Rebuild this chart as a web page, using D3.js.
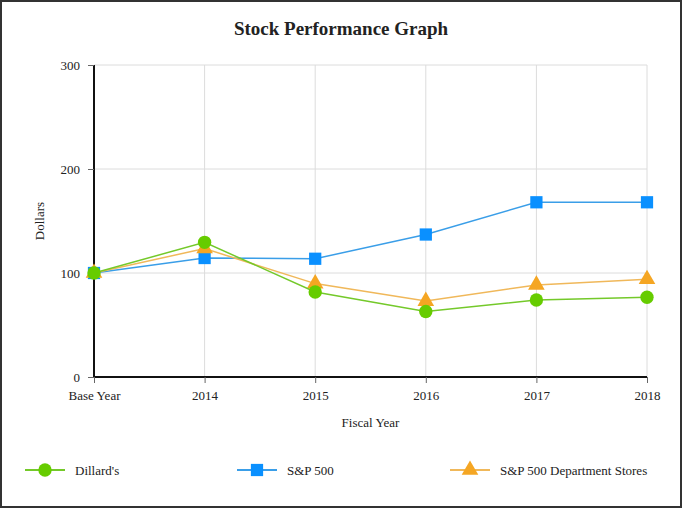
<!DOCTYPE html>
<html>
<head>
<meta charset="utf-8">
<script src="https://cdn.jsdelivr.net/npm/d3@7"></script>
<style>
body { margin: 0; background: #fff; }
text { font-family: "Liberation Serif", "Times New Roman", serif; fill: #222; }
</style>
</head>
<body>
<script>
// data
var years = ["Base Year", "2014", "2015", "2016", "2017", "2018"];
var dillards = [100, 129.5, 81.7, 63, 74, 76.7];
var sp500 = [100, 114.4, 113.7, 137, 168, 168];
var deptStores = [100, 123.5, 89.8, 73, 88.5, 94];
var yTicks = [0, 100, 200, 300];
var seriesNames = ["Dillard's", "S&P 500", "S&P 500 Department Stores"];

var W = 682, H = 508;
var margin = {top: 65, right: 35, bottom: 131, left: 94};
var width = W - margin.left - margin.right,
    height = H - margin.top - margin.bottom;

var svg = d3.select("body").append("svg")
  .attr("width", W).attr("height", H);

// outer frame
svg.append("rect")
  .attr("x", 1).attr("y", 1).attr("width", W - 2).attr("height", H - 2)
  .attr("fill", "#fff").attr("stroke", "#333").attr("stroke-width", 2);

svg.append("text")
  .attr("x", W / 2).attr("y", 35)
  .attr("text-anchor", "middle")
  .style("font-size", "19px").style("font-weight", "bold")
  .text("Stock Performance Graph");

var g = svg.append("g").attr("transform", "translate(" + margin.left + "," + margin.top + ")");

var x = d3.scalePoint().domain(years).range([0, width]);
var y = d3.scaleLinear().domain([0, 300]).range([height, 0]);

// gridlines
g.selectAll(".vgrid").data(years.slice(1)).enter().append("line")
  .attr("x1", d => x(d)).attr("x2", d => x(d))
  .attr("y1", 0).attr("y2", height)
  .attr("stroke", "#dcdcdc");
g.selectAll(".hgrid").data(yTicks.slice(1)).enter().append("line")
  .attr("x1", 0).attr("x2", width)
  .attr("y1", d => y(d)).attr("y2", d => y(d))
  .attr("stroke", "#dcdcdc");

var xAxis = g.append("g").attr("transform", "translate(0," + height + ")")
  .call(d3.axisBottom(x).tickSize(6).tickPadding(8));
var yAxis = g.append("g")
  .call(d3.axisLeft(y).tickValues(yTicks).tickSize(6).tickPadding(8));
[xAxis, yAxis].forEach(a => {
  a.select(".domain").attr("stroke", "#111").attr("stroke-width", 2);
  a.selectAll(".tick line").attr("stroke", "#666");
  a.selectAll("text").style("font-size", "13px").style("font-family", "Liberation Serif").attr("fill", "#222");
});
yAxis.select(".domain").attr("d", "M0," + height + "V0");
xAxis.select(".domain").attr("d", "M0,0H" + width);

svg.append("text")
  .attr("x", margin.left + width / 2).attr("y", 427)
  .attr("text-anchor", "middle").style("font-size", "13px")
  .text("Fiscal Year");
svg.append("text")
  .attr("transform", "translate(44," + (margin.top + height / 2) + ") rotate(-90)")
  .attr("text-anchor", "middle").style("font-size", "13px")
  .text("Dollars");

var series = [
  {name: seriesNames[1], values: sp500, color: "#0a90ff", line: "#3a9ee8", sym: d3.symbolSquare, size: 150},
  {name: seriesNames[2], values: deptStores, color: "#f5a623", line: "#f0b85a", sym: d3.symbolTriangle, size: 120},
  {name: seriesNames[0], values: dillards, color: "#66cc00", line: "#74c92a", sym: d3.symbolCircle, size: 140}
];

var line = d3.line().x((d, i) => x(years[i])).y(d => y(d));

series.forEach(s => {
  g.append("path").datum(s.values)
    .attr("fill", "none").attr("stroke", s.line).attr("stroke-width", 1.5)
    .attr("d", line);
  g.selectAll(null).data(s.values).enter().append("path")
    .attr("transform", (d, i) => "translate(" + x(years[i]) + "," + y(d) + ")")
    .attr("d", d3.symbol().type(s.sym).size(s.size))
    .attr("fill", s.color);
});

// legend
var legendX = [25, 237, 450];
var order = [series[2], series[0], series[1]];
order.forEach((s, i) => {
  var lg = svg.append("g").attr("transform", "translate(" + legendX[i] + ",470)");
  lg.append("line").attr("x1", 0).attr("x2", 40).attr("stroke", s.line).attr("stroke-width", 2);
  lg.append("path").attr("transform", "translate(20,0)")
    .attr("d", d3.symbol().type(s.sym).size(s.size)).attr("fill", s.color);
  lg.append("text").attr("x", 50).attr("y", 5).style("font-size", "13px").text(s.name);
});
</script>
</body>
</html>
